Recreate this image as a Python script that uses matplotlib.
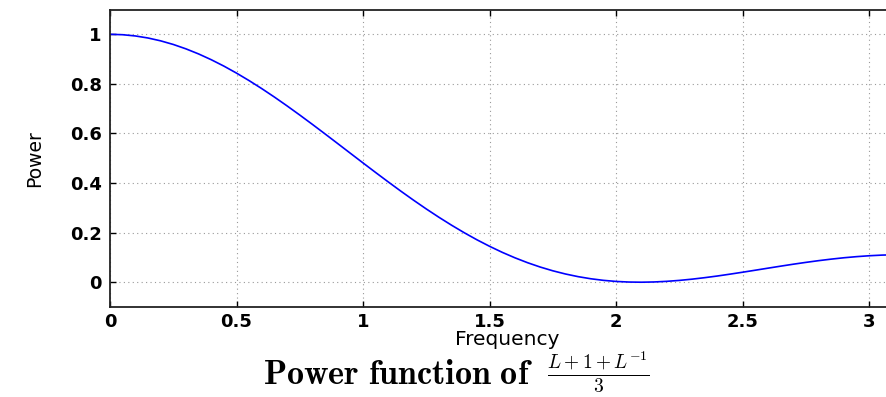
import numpy as np
import matplotlib.pyplot as plt

plt.rcParams['mathtext.fontset'] = 'cm'

# valores (passo 0.05)
freq = [0.00, 0.05, 0.10, 0.15, 0.20, 0.25, 0.30, 0.35, 0.40, 0.45,
        0.50, 0.55, 0.60, 0.65, 0.70, 0.75, 0.80, 0.85, 0.90, 0.95,
        1.00, 1.05, 1.10, 1.15, 1.20, 1.25, 1.30, 1.35, 1.40, 1.45,
        1.50, 1.55, 1.60, 1.65, 1.70, 1.75, 1.80, 1.85, 1.90, 1.95,
        2.00, 2.05, 2.10, 2.15, 2.20, 2.25, 2.30, 2.35, 2.40, 2.45,
        2.50, 2.55, 2.60, 2.65, 2.70, 2.75, 2.80, 2.85, 2.90, 2.95,
        3.00, 3.05, 3.10, 3.1416]
power = [1.0000, 0.9983, 0.9933, 0.9851, 0.9736, 0.9590, 0.9413, 0.9208, 0.8975, 0.8717,
         0.8434, 0.8130, 0.7807, 0.7466, 0.7110, 0.6742, 0.6365, 0.5980, 0.5591, 0.5200,
         0.4810, 0.4423, 0.4042, 0.3668, 0.3305, 0.2954, 0.2618, 0.2298, 0.1995, 0.1711,
         0.1448, 0.1205, 0.0985, 0.0787, 0.0612, 0.0460, 0.0331, 0.0224, 0.0139, 0.0075,
         0.0031, 0.0007, 0.0000, 0.0010, 0.0035, 0.0073, 0.0123, 0.0183, 0.0250, 0.0325,
         0.0403, 0.0484, 0.0566, 0.0647, 0.0726, 0.0800, 0.0869, 0.0931, 0.0986, 0.1031,
         0.1067, 0.1093, 0.1107, 0.1111]
xticks = [0, 0.5, 1, 1.5, 2, 2.5, 3]
xticklabels = ['0', '0.5', '1', '1.5', '2', '2.5', '3']
yticks = [0, 0.2, 0.4, 0.6, 0.8, 1]
yticklabels = ['0', '0.2', '0.4', '0.6', '0.8', '1']

fig = plt.figure(figsize=(8.87, 3.97), dpi=100)
# eixo vai ate pi, a imagem original esta cortada a direita
ax = fig.add_axes([110 / 887, 90 / 397, 795 / 887, 297.5 / 397])

ax.plot(freq, power, color='#0000ff', linewidth=1.2)

ax.set_xlim(0, np.pi)
ax.set_ylim(-0.1, 1.1)
ax.set_xticks(xticks)
ax.set_xticklabels(xticklabels)
ax.set_yticks(yticks)
ax.set_yticklabels(yticklabels)
ax.tick_params(direction='in', length=4, width=1, top=True, right=True,
               labelsize=13)
ax.tick_params(axis='x', pad=4)
ax.tick_params(axis='y', pad=6)
for lab in ax.get_xticklabels() + ax.get_yticklabels():
    lab.set_fontweight('bold')

ax.grid(True, linestyle=(0, (1, 3)), color='#999999', linewidth=0.8)
for s in ax.spines.values():
    s.set_linewidth(1.3)
    s.set_color('#222222')

ax.set_xlabel('Frequency', fontsize=14.5)
ax.xaxis.set_label_coords(0.5, -0.076)
ax.set_ylabel('Power', fontsize=13.5)
ax.yaxis.set_label_coords(-0.083, 0.5)

# titulo abaixo do eixo, em duas partes
fig.text(533 / 887, 13 / 397, r'$\mathbf{Power\ function\ of}$',
         fontsize=24.5, ha='right', va='baseline')
fig.text(547 / 887, 17 / 397, r'$\frac{L+1+L^{-1}}{3}$',
         fontsize=20, ha='left', va='baseline')

plt.savefig('out.png', dpi=100)
